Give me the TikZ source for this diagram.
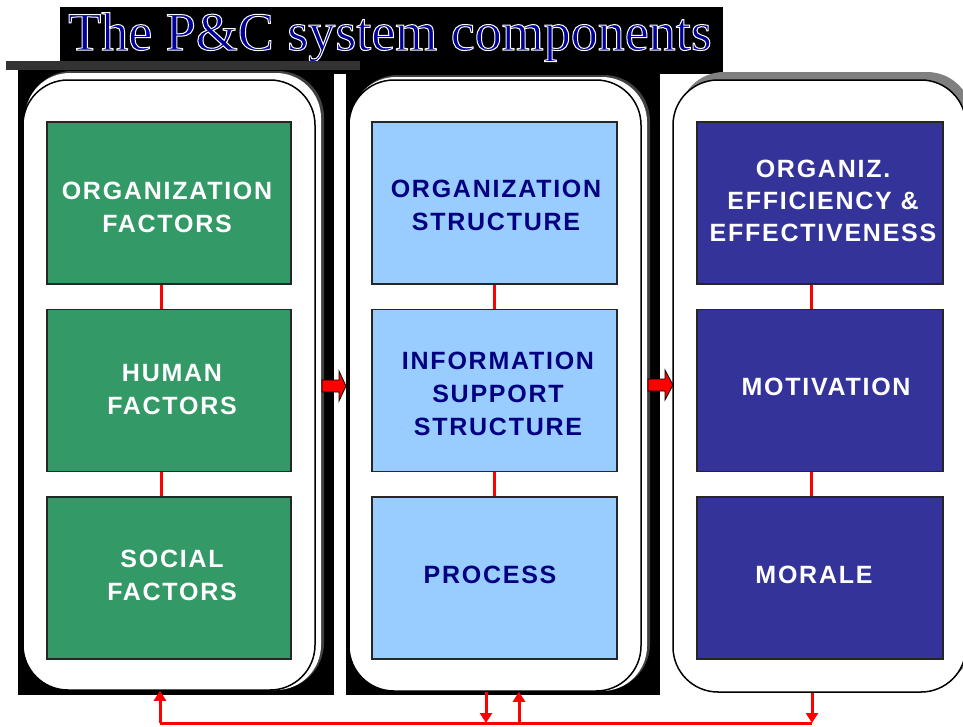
\documentclass[tikz,border=0pt]{standalone}
\usepackage{fontspec}
\setmainfont{Liberation Sans}
\newfontfamily\boxfont[LetterSpace=7]{Liberation Sans}
\newfontfamily\titlefont{Liberation Serif}
\usetikzlibrary{arrows.meta,calc}
\definecolor{pcgreen}{HTML}{339966}
\definecolor{pclight}{HTML}{99CCFF}
\definecolor{pcdark}{HTML}{333399}
\definecolor{pcnavy}{HTML}{000080}
\definecolor{pctitle}{HTML}{000099}
\definecolor{pcbar}{HTML}{333333}
\begin{document}
\begin{tikzpicture}[x=1pt,y=-1pt,
  comp/.style={draw=black!85, line width=1.2pt, minimum width=244pt, minimum height=162pt, inner sep=0pt},
  greenbox/.style={comp, fill=pcgreen},
  lightbox/.style={comp, fill=pclight},
  darkbox/.style={comp, fill=pcdark},
  boxtext/.style={inner sep=0pt, align=center, font=\boxfont\bfseries\fontsize{25}{33}\selectfont},
  whitetext/.style={boxtext, text=white},
  navytext/.style={boxtext, text=pcnavy},
  column/.style={draw=black, line width=1.5pt, fill=white, rounded corners=45pt, inner sep=0pt},
  glowout/.style={fill=black!75, rounded corners=46pt},
  glowin/.style={fill=white, rounded corners=45pt},
  link/.style={draw=red, line width=3pt},
  feed/.style={draw=red, line width=3pt, -{Triangle[width=12pt,length=10pt]}},
  blockarrow/.style={fill=red, draw=black, line width=0.8pt},
  titletext/.style={font=\titlefont\fontsize{54}{54}\selectfont, anchor=base, inner sep=0pt}
]
\useasboundingbox (0,0) rectangle (963,726);
\clip (0,0) rectangle (963,726);

% title
\fill[black] (60,7) rectangle (723,74);
\node[titletext, text=pctitle] (title) at (390,50) {\special{pdf:literal 1 1 1 RG 1.0 w 2 Tr}The P\&C system components\special{pdf:literal 0 Tr}};

% column backgrounds
\fill[black] (18,70) rectangle (334,695);
\fill[black] (346,74) rectangle (660,695);
\fill[pcbar] (6,61) rectangle (360,70);

% glows
\fill[glowout] (26,71) rectangle (324,689);
\fill[glowin] (25,73) rectangle (321,690);
\fill[glowout] (352,75) rectangle (650,690);
\fill[glowin] (351,77) rectangle (647,691);
\fill[gray, rounded corners=45pt] (679,72) rectangle (972,686);

% columns
\node[column, minimum width=292pt, minimum height=610pt] (c1) at (169,385) {};
\node[column, minimum width=292pt, minimum height=611pt] (c2) at (495,385.5) {};
\node[column, minimum width=293pt, minimum height=612pt] (c3) at (819.5,386) {};

% inner boxes
\node[greenbox] (g1) at (169,203) {};
\node[greenbox] (g2) at (169,390.5) {};
\node[greenbox] (g3) at (169,578) {};
\node[lightbox, minimum width=245pt] (l1) at (494.5,203) {};
\node[lightbox, minimum width=245pt] (l2) at (494.5,390.5) {};
\node[lightbox, minimum width=245pt] (l3) at (494.5,578) {};
\node[darkbox, minimum width=246pt] (d1) at (820,203) {};
\node[darkbox, minimum width=246pt] (d2) at (820,390.5) {};
\node[darkbox, minimum width=246pt] (d3) at (820,578) {};

% texts
\node[whitetext] (tg1) at (167,207.5) {ORGANIZATION\\FACTORS};
\node[whitetext] (tg2) at (172,389.5) {HUMAN\\FACTORS};
\node[whitetext] (tg3) at (172,575.5) {SOCIAL\\FACTORS};
\node[navytext] (tl1) at (496,205.5) {ORGANIZATION\\STRUCTURE};
\node[navytext] (tl2) at (498,393.5) {INFORMATION\\SUPPORT\\STRUCTURE};
\node[navytext] (tl3) at (490,575) {PROCESS};
\node[whitetext, font=\boxfont\bfseries\fontsize{25}{32}\selectfont] (td1) at (823,201) {ORGANIZ.\\EFFICIENCY \&\\EFFECTIVENESS};
\node[whitetext] (td2) at (826,387) {MOTIVATION};
\node[whitetext] (td3) at (814,575) {MORALE};

% vertical links
\draw[link] ([xshift=-8pt]g1.south) -- ([xshift=-8pt]g2.north);
\draw[link] ([xshift=-8pt]g2.south) -- ([xshift=-8pt]g3.north);
\draw[link] (l1.south) -- (l2.north);
\draw[link] (l2.south) -- (l3.north);
\draw[link] ([xshift=-9pt]d1.south) -- ([xshift=-9pt]d2.north);
\draw[link] ([xshift=-9pt]d2.south) -- ([xshift=-9pt]d3.north);

% block arrows between columns
\draw[blockarrow] (322,380) -- (339,380) -- (339,371) -- (346,386) -- (339,401) -- (339,392) -- (322,392) -- cycle;
\draw[blockarrow] (648,379) -- (665,379) -- (665,370) -- (673,385) -- (665,400) -- (665,391) -- (648,391) -- cycle;

% feedback loop
\coordinate (f1) at (160,723);
\coordinate (f2) at (486,723);
\coordinate (f3) at (519,723);
\coordinate (f4) at (812,723);
\draw[link] (f1) -- (f4);
\draw[feed] (f1) -- (f1 |- c1.south);
\draw[feed] (f2 |- c2.south) -- (f2);
\draw[feed] (f3) -- (f3 |- c2.south);
\draw[feed] (f4 |- c3.south) -- (f4);
\end{tikzpicture}
\end{document}
